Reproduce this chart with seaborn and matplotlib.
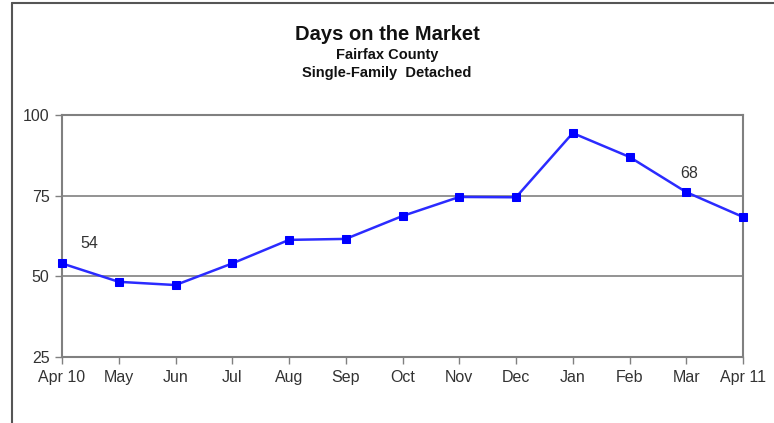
import pandas as pd
import matplotlib.pyplot as plt
import seaborn as sns
from matplotlib.lines import Line2D

# Dados do gráfico
months = ["Apr 10", "May", "Jun", "Jul", "Aug", "Sep", "Oct",
          "Nov", "Dec", "Jan", "Feb", "Mar", "Apr 11"]
days = [54, 48.3, 47.3, 54, 61.3, 61.6, 68.7, 74.6, 74.5, 94.4, 87, 76.1, 68.4]
y_ticks = [25, 50, 75, 100]

sns.set_theme(style="white")
plt.rcParams["font.family"] = ["Liberation Sans", "DejaVu Sans"]

df = pd.DataFrame({"pos": range(len(months)), "days": days})

fig = plt.figure(figsize=(7.74, 4.23), dpi=100)
ax = fig.add_axes([62 / 774, 1 - 357 / 423, (743 - 62) / 774, (357 - 115) / 423])

sns.lineplot(data=df, x="pos", y="days", ax=ax, color="#2b2bff", linewidth=1.8,
             marker="s", markersize=6, markerfacecolor="#0000ff",
             markeredgecolor="#0000ff", clip_on=False, zorder=5)

ax.set_xlim(0, len(months) - 1)
ax.set_ylim(25, 100)
ax.set_xticks(range(len(months)))
ax.set_xticklabels(months)
ax.set_yticks(y_ticks)
ax.set_xlabel("")
ax.set_ylabel("")

# grade horizontal
for v in y_ticks[1:-1]:
    ax.axhline(v, color="#808080", linewidth=1.2, zorder=0)

for s in ax.spines.values():
    s.set_color("#808080")
    s.set_linewidth(1.5)

ax.tick_params(axis="both", which="both", direction="out", length=5, width=1,
               color="#808080", labelsize=11.5, labelcolor="#333333", pad=4,
               bottom=True, left=True)

# rótulos de valores
ax.annotate(f"{days[0]:.0f}", xy=(0, days[0]), xytext=(19.5, 14.5),
            textcoords="offset points", ha="center", va="center",
            fontsize=11.5, color="#333333")
ax.annotate(f"{days[-1]:.0f}", xy=(len(months) - 1, days[-1]), xytext=(-39, 31.5),
            textcoords="offset points", ha="center", va="center",
            fontsize=11.5, color="#333333")

# títulos
fig.text(0.5, 1 - 35 / 423, "Days on the Market", ha="center", va="center",
         fontsize=14.5, fontweight="bold", color="#111111")
fig.text(0.5, 1 - 55 / 423, "Fairfax County", ha="center", va="center",
         fontsize=10.5, fontweight="bold", color="#111111")
fig.text(0.5, 1 - 73 / 423, "Single-Family  Detached", ha="center", va="center",
         fontsize=10.5, fontweight="bold", color="#111111")

# moldura
fig.add_artist(Line2D([12 / 774, 12 / 774], [0, 1 - 3 / 423], color="#555555",
                      linewidth=1.5, transform=fig.transFigure))
fig.add_artist(Line2D([12 / 774, 1], [1 - 3 / 423, 1 - 3 / 423], color="#555555",
                      linewidth=1.5, transform=fig.transFigure))

fig.savefig("out.png", dpi=100)
